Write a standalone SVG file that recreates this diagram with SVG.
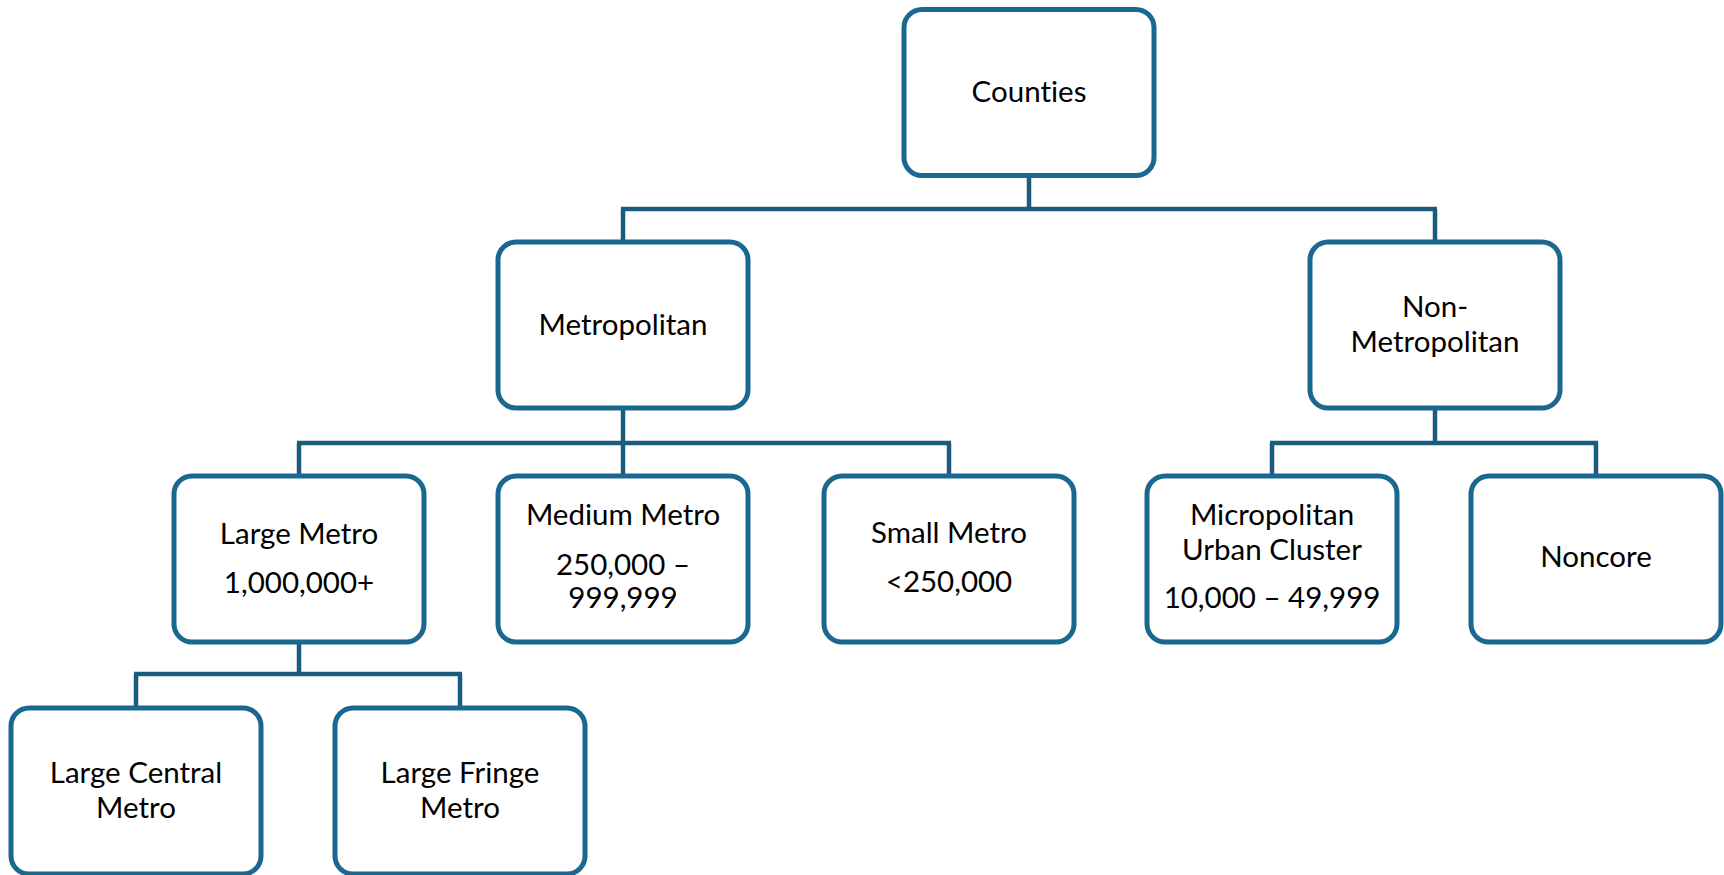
<svg xmlns="http://www.w3.org/2000/svg" width="1724" height="875" viewBox="0 0 1724 875">
<style>
.box{fill:#ffffff;stroke:#1a6890;stroke-width:5}
.conn{fill:none;stroke:#1b5b7c;stroke-width:4.5;stroke-linejoin:miter;stroke-linecap:butt}
text{font-family:Lato,"Noto Sans","Liberation Sans",sans-serif;font-size:29.5px;fill:#000;text-anchor:middle;font-variant-ligatures:none;font-feature-settings:"liga" 0}
</style>
<rect width="1724" height="875" fill="#ffffff"/>
<g id="connectors">
<path class="conn" d="M1029,176 V209 M621,209 H1437 M623,209 V242 M1435,209 V242"/>
<path class="conn" d="M623,408 V443 M297,443 H951 M299,443 V476 M623,443 V476 M949,443 V476"/>
<path class="conn" d="M1435,408 V443 M1270,443 H1598 M1272,443 V476 M1596,443 V476"/>
<path class="conn" d="M299,642 V674 M134,674 H462 M136,674 V708 M460,674 V708"/>
</g>
<g id="counties"><rect class="box" x="904" y="9.5" width="250" height="166" rx="18"/><text x="1029" y="102">Counties</text></g>
<g id="metropolitan"><rect class="box" x="498" y="242" width="250" height="166" rx="18"/><text x="623" y="335">Metropolitan</text></g>
<g id="non-metropolitan"><rect class="box" x="1310" y="242" width="250" height="166" rx="18"/><text x="1435" y="317">Non-</text><text x="1435" y="352">Metropolitan</text></g>
<g id="large-metro"><rect class="box" x="174" y="476" width="250" height="166" rx="18"/><text x="299" y="544">Large Metro</text><text x="299" y="593">1,000,000+</text></g>
<g id="medium-metro"><rect class="box" x="498" y="476" width="250" height="166" rx="18"/><text x="623" y="525">Medium Metro</text><text x="623" y="575">250,000 –</text><text x="623" y="608">999,999</text></g>
<g id="small-metro"><rect class="box" x="824" y="476" width="250" height="166" rx="18"/><text x="949" y="543">Small Metro</text><text x="949" y="592">&lt;250,000</text></g>
<g id="micropolitan"><rect class="box" x="1147" y="476" width="250" height="166" rx="18"/><text x="1272" y="525">Micropolitan</text><text x="1272" y="560">Urban Cluster</text><text x="1272" y="608">10,000 – 49,999</text></g>
<g id="noncore"><rect class="box" x="1471" y="476" width="250" height="166" rx="18"/><text x="1596" y="567">Noncore</text></g>
<g id="large-central-metro"><rect class="box" x="11" y="708" width="250" height="166" rx="18"/><text x="136" y="783">Large Central</text><text x="136" y="818">Metro</text></g>
<g id="large-fringe-metro"><rect class="box" x="335" y="708" width="250" height="166" rx="18"/><text x="460" y="783">Large Fringe</text><text x="460" y="818">Metro</text></g>
</svg>
